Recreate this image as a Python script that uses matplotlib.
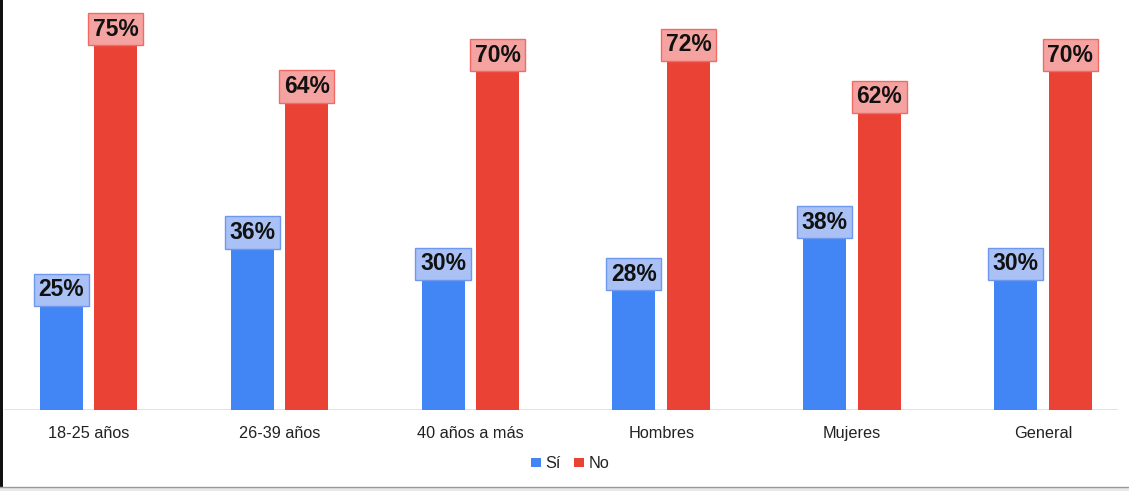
import matplotlib
matplotlib.use("Agg")
import matplotlib.pyplot as plt
from matplotlib.patches import Rectangle
from matplotlib.lines import Line2D
import numpy as np

categories = ["18-25 años", "26-39 años", "40 años a más", "Hombres", "Mujeres", "General"]
si_values = [25, 36, 30, 28, 38, 30]
no_values = [75, 64, 70, 72, 62, 70]
series_names = ["Sí", "No"]

BLUE = "#4285F4"
RED = "#EA4335"
BLUE_BOX = "#A9C1F5"
RED_BOX = "#F4A3A0"

W, H = 1129, 491
fig = plt.figure(figsize=(W / 100, H / 100), dpi=100)
fig.patch.set_facecolor("white")

# axes: bottom (baseline) at 410px from top, top at figure top
ax = fig.add_axes([0, 81 / H, 1, 410 / H])
ax.set_facecolor("none")

x = np.arange(len(categories))
bw = 0.225
off = 0.1428
ax.bar(x - off, si_values, bw, color=BLUE, zorder=2)
ax.bar(x + off, no_values, bw, color=RED, zorder=2)

for xi, v in zip(x, si_values):
    ax.annotate(f"{v}%", (xi - off, v), xytext=(0, -7.2), textcoords="offset points",
                ha="center", va="center", fontsize=16.5, fontweight="bold",
                family="Liberation Sans", color="#111111", zorder=3,
                bbox=dict(boxstyle="square,pad=0.2", fc=BLUE_BOX, ec="#6E98F0", lw=1))
for xi, v in zip(x, no_values):
    ax.annotate(f"{v}%", (xi + off, v), xytext=(0, -7.2), textcoords="offset points",
                ha="center", va="center", fontsize=16.5, fontweight="bold",
                family="Liberation Sans", color="#111111", zorder=3,
                bbox=dict(boxstyle="square,pad=0.2", fc=RED_BOX, ec="#F06B66", lw=1))

ax.set_xlim(-88.5 / 190.9, (W - 88.5) / 190.9)
ax.set_ylim(0, 410 / 5.21)
ax.set_xticks(x)
ax.set_xticklabels(categories, fontsize=11.7, family="Liberation Sans", color="#222222")
ax.tick_params(axis="x", length=0, pad=11.5)
ax.set_yticks([])
for s in ax.spines.values():
    s.set_visible(False)
ax.axhline(0, xmin=5 / W, xmax=1117 / W, color="#DDDDDD", lw=1.2, zorder=1)

handles = [Rectangle((0, 0), 1, 1, fc=BLUE), Rectangle((0, 0), 1, 1, fc=RED)]
leg = fig.legend(handles, series_names, loc="center", bbox_to_anchor=(570 / W, 1 - 464 / H),
                 ncol=2, frameon=False, handlelength=0.6, handleheight=0.5,
                 handletextpad=0.3, columnspacing=0.8,
                 prop={"family": "Liberation Sans", "size": 11.7})
for t in leg.get_texts():
    t.set_color("#222222")

# frame decorations
fig.add_artist(Rectangle((0, 0), 3 / W, 1, transform=fig.transFigure, fc="#111111", ec="none"))
fig.add_artist(Rectangle((0, 0), 1, 4 / H, transform=fig.transFigure, fc="#E8E8E8", ec="none"))
fig.add_artist(Line2D([0, 1], [4 / H, 4 / H], transform=fig.transFigure, color="#9A9A9A", lw=1))

fig.savefig("out.png", dpi=100)
